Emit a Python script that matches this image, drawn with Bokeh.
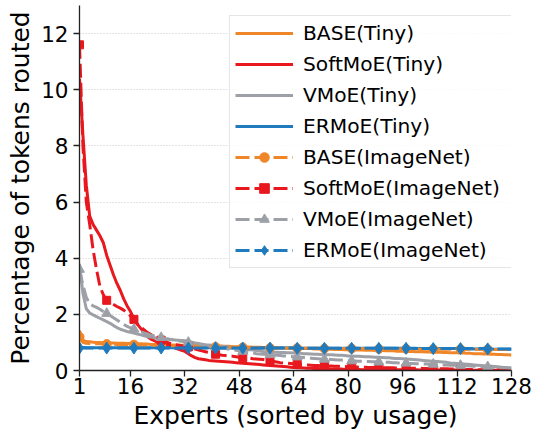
from bokeh.plotting import figure
from bokeh.models import Legend, LegendItem, Range1d, FixedTicker
from bokeh.embed import file_html
from bokeh.resources import INLINE

experts = list(range(1, 129))
x_ticks = [1, 16, 32, 48, 64, 80, 96, 112, 128]
y_ticks = [0, 2, 4, 6, 8, 10, 12]

base_tiny = [
    1.42, 1.08, 1.03, 1.02, 1.01, 1.0, 1.0, 0.99, 0.99, 0.98, 0.98, 0.97, 0.97, 0.97, 0.96, 0.96,
    0.95, 0.95, 0.95, 0.94, 0.94, 0.93, 0.93, 0.93, 0.92, 0.92, 0.92, 0.91, 0.91, 0.91, 0.9, 0.9,
    0.9, 0.89, 0.89, 0.89, 0.88, 0.88, 0.88, 0.87, 0.87, 0.87, 0.86, 0.86, 0.86, 0.85, 0.85, 0.85,
    0.84, 0.84, 0.84, 0.83, 0.83, 0.83, 0.82, 0.82, 0.82, 0.81, 0.81, 0.81, 0.8, 0.8, 0.8, 0.79,
    0.79, 0.79, 0.78, 0.78, 0.78, 0.77, 0.77, 0.77, 0.76, 0.76, 0.76, 0.75, 0.75, 0.75, 0.74, 0.74,
    0.74, 0.73, 0.73, 0.73, 0.72, 0.72, 0.72, 0.71, 0.71, 0.71, 0.7, 0.7, 0.7, 0.69, 0.69, 0.69,
    0.68, 0.68, 0.68, 0.67, 0.67, 0.67, 0.66, 0.66, 0.65, 0.65, 0.65, 0.64, 0.64, 0.63, 0.63, 0.63,
    0.62, 0.62, 0.61, 0.61, 0.6, 0.6, 0.6, 0.59, 0.59, 0.58, 0.58, 0.57, 0.57, 0.56, 0.56, 0.55,
]
softmoe_tiny = [
    10.4, 8.4, 6.6, 5.5, 5.2, 5.0, 4.8, 4.55, 4.1, 3.75, 3.4, 3.1, 2.85, 2.55, 2.3, 2.1,
    1.85, 1.65, 1.5, 1.35, 1.2, 1.12, 1.06, 1.0, 0.97, 0.93, 0.9, 0.86, 0.81, 0.76, 0.72, 0.68,
    0.6, 0.52, 0.46, 0.42, 0.4, 0.38, 0.36, 0.35, 0.34, 0.33, 0.32, 0.31, 0.3, 0.29, 0.28, 0.27,
    0.26, 0.25, 0.24, 0.23, 0.22, 0.21, 0.2, 0.19, 0.18, 0.17, 0.16, 0.15, 0.14, 0.13, 0.12, 0.11,
    0.1, 0.1, 0.09, 0.08, 0.08, 0.07, 0.07, 0.06, 0.06, 0.06, 0.05, 0.05, 0.05, 0.05, 0.04, 0.04,
    0.04, 0.04, 0.04, 0.03, 0.03, 0.03, 0.03, 0.03, 0.03, 0.03, 0.03, 0.03, 0.03, 0.03, 0.03, 0.03,
    0.03, 0.03, 0.03, 0.03, 0.02, 0.02, 0.02, 0.02, 0.02, 0.02, 0.02, 0.02, 0.02, 0.02, 0.02, 0.02,
    0.02, 0.02, 0.02, 0.01, 0.01, 0.01, 0.01, 0.01, 0.01, 0.01, 0.01, 0.01, 0.01, 0.01, 0.01, 0.01,
]
vmoe_tiny = [
    3.8, 2.75, 2.2, 2.05, 1.98, 1.92, 1.86, 1.8, 1.74, 1.68, 1.6, 1.53, 1.47, 1.43, 1.39, 1.36,
    1.33, 1.3, 1.27, 1.24, 1.21, 1.19, 1.17, 1.15, 1.14, 1.12, 1.11, 1.1, 1.09, 1.08, 1.07, 1.06,
    1.04, 1.01, 0.98, 0.96, 0.94, 0.92, 0.91, 0.9, 0.89, 0.87, 0.86, 0.85, 0.84, 0.82, 0.81, 0.79,
    0.78, 0.76, 0.74, 0.73, 0.71, 0.7, 0.68, 0.67, 0.66, 0.65, 0.65, 0.64, 0.64, 0.63, 0.63, 0.62,
    0.62, 0.61, 0.6, 0.6, 0.59, 0.58, 0.58, 0.57, 0.57, 0.56, 0.56, 0.55, 0.54, 0.54, 0.53, 0.52,
    0.52, 0.51, 0.51, 0.5, 0.49, 0.49, 0.48, 0.47, 0.47, 0.46, 0.45, 0.45, 0.44, 0.43, 0.43, 0.42,
    0.41, 0.4, 0.39, 0.38, 0.37, 0.36, 0.35, 0.34, 0.33, 0.32, 0.31, 0.3, 0.29, 0.27, 0.26, 0.25,
    0.24, 0.23, 0.22, 0.21, 0.2, 0.19, 0.18, 0.17, 0.16, 0.15, 0.14, 0.13, 0.12, 0.11, 0.1, 0.09,
]
ermoe_tiny = [
    0.82, 0.82, 0.81, 0.81, 0.81, 0.81, 0.81, 0.81, 0.81, 0.81, 0.81, 0.81, 0.81, 0.81, 0.81, 0.81,
    0.81, 0.81, 0.81, 0.81, 0.81, 0.81, 0.81, 0.81, 0.81, 0.81, 0.81, 0.81, 0.81, 0.81, 0.81, 0.81,
    0.81, 0.81, 0.81, 0.81, 0.81, 0.81, 0.81, 0.81, 0.8, 0.8, 0.8, 0.8, 0.8, 0.8, 0.8, 0.8,
    0.8, 0.8, 0.8, 0.8, 0.8, 0.8, 0.8, 0.8, 0.8, 0.8, 0.8, 0.8, 0.8, 0.8, 0.8, 0.8,
    0.79, 0.79, 0.79, 0.79, 0.79, 0.79, 0.79, 0.79, 0.79, 0.79, 0.79, 0.79, 0.79, 0.79, 0.79, 0.79,
    0.79, 0.79, 0.79, 0.79, 0.79, 0.79, 0.79, 0.79, 0.79, 0.79, 0.79, 0.79, 0.79, 0.79, 0.79, 0.79,
    0.78, 0.78, 0.78, 0.78, 0.78, 0.78, 0.78, 0.78, 0.78, 0.78, 0.78, 0.78, 0.78, 0.78, 0.78, 0.78,
    0.77, 0.77, 0.77, 0.77, 0.77, 0.77, 0.77, 0.77, 0.77, 0.77, 0.76, 0.76, 0.76, 0.76, 0.76, 0.76,
]
base_imagenet = [
    1.2, 1.0, 0.97, 0.96, 0.96, 0.95, 0.95, 0.95, 0.94, 0.94, 0.94, 0.93, 0.93, 0.93, 0.93, 0.92,
    0.92, 0.92, 0.91, 0.91, 0.91, 0.9, 0.9, 0.9, 0.89, 0.89, 0.89, 0.88, 0.88, 0.88, 0.87, 0.87,
    0.87, 0.86, 0.86, 0.86, 0.85, 0.85, 0.85, 0.84, 0.84, 0.84, 0.84, 0.83, 0.83, 0.83, 0.83, 0.82,
    0.82, 0.82, 0.82, 0.81, 0.81, 0.81, 0.81, 0.8, 0.8, 0.8, 0.8, 0.8, 0.79, 0.79, 0.79, 0.79,
    0.79, 0.79, 0.79, 0.79, 0.79, 0.79, 0.79, 0.79, 0.78, 0.78, 0.78, 0.78, 0.78, 0.78, 0.78, 0.78,
    0.78, 0.78, 0.78, 0.78, 0.78, 0.77, 0.77, 0.77, 0.77, 0.77, 0.77, 0.77, 0.77, 0.77, 0.77, 0.77,
    0.77, 0.77, 0.77, 0.77, 0.76, 0.76, 0.76, 0.76, 0.76, 0.76, 0.76, 0.76, 0.76, 0.76, 0.76, 0.76,
    0.76, 0.76, 0.76, 0.76, 0.76, 0.76, 0.76, 0.76, 0.75, 0.75, 0.75, 0.75, 0.75, 0.75, 0.75, 0.75,
]
softmoe_imagenet = [
    11.6, 8.0, 6.0, 5.2, 4.3, 3.6, 3.0, 2.7, 2.5, 2.42, 2.35, 2.28, 2.22, 2.15, 2.05, 1.95,
    1.82, 1.65, 1.55, 1.45, 1.35, 1.28, 1.2, 1.14, 1.08, 1.03, 0.99, 0.95, 0.92, 0.9, 0.88, 0.86,
    0.84, 0.8, 0.76, 0.73, 0.7, 0.67, 0.64, 0.61, 0.58, 0.56, 0.54, 0.53, 0.52, 0.51, 0.49, 0.47,
    0.46, 0.45, 0.44, 0.42, 0.41, 0.4, 0.39, 0.37, 0.34, 0.32, 0.3, 0.28, 0.27, 0.26, 0.25, 0.24,
    0.23, 0.22, 0.21, 0.2, 0.19, 0.18, 0.18, 0.17, 0.17, 0.16, 0.16, 0.15, 0.15, 0.14, 0.14, 0.13,
    0.13, 0.13, 0.12, 0.12, 0.12, 0.11, 0.11, 0.11, 0.1, 0.1, 0.1, 0.1, 0.1, 0.09, 0.09, 0.09,
    0.09, 0.08, 0.08, 0.08, 0.08, 0.07, 0.07, 0.07, 0.07, 0.06, 0.06, 0.06, 0.06, 0.05, 0.05, 0.05,
    0.05, 0.04, 0.04, 0.04, 0.03, 0.03, 0.03, 0.03, 0.02, 0.02, 0.02, 0.02, 0.01, 0.01, 0.01, 0.01,
]
vmoe_imagenet = [
    3.6, 3.05, 2.6, 2.38, 2.3, 2.25, 2.18, 2.1, 2.03, 1.96, 1.88, 1.8, 1.72, 1.64, 1.57, 1.52,
    1.47, 1.42, 1.38, 1.34, 1.3, 1.26, 1.23, 1.2, 1.17, 1.14, 1.12, 1.1, 1.08, 1.06, 1.04, 1.02,
    1.0, 0.98, 0.96, 0.94, 0.92, 0.9, 0.88, 0.86, 0.84, 0.82, 0.8, 0.78, 0.76, 0.74, 0.72, 0.7,
    0.68, 0.66, 0.64, 0.62, 0.6, 0.59, 0.58, 0.57, 0.56, 0.55, 0.54, 0.53, 0.52, 0.51, 0.5, 0.49,
    0.48, 0.47, 0.46, 0.45, 0.44, 0.43, 0.42, 0.41, 0.4, 0.4, 0.39, 0.38, 0.37, 0.37, 0.36, 0.35,
    0.34, 0.34, 0.33, 0.33, 0.32, 0.32, 0.31, 0.31, 0.3, 0.3, 0.29, 0.29, 0.28, 0.28, 0.27, 0.27,
    0.26, 0.25, 0.25, 0.24, 0.24, 0.23, 0.23, 0.22, 0.22, 0.21, 0.21, 0.2, 0.2, 0.19, 0.19, 0.18,
    0.18, 0.17, 0.17, 0.16, 0.15, 0.15, 0.14, 0.14, 0.13, 0.12, 0.12, 0.11, 0.1, 0.1, 0.09, 0.08,
]
ermoe_imagenet = [
    0.8, 0.8, 0.8, 0.8, 0.8, 0.8, 0.8, 0.8, 0.8, 0.8, 0.8, 0.8, 0.8, 0.8, 0.8, 0.8,
    0.8, 0.8, 0.8, 0.8, 0.8, 0.8, 0.8, 0.8, 0.8, 0.8, 0.8, 0.8, 0.8, 0.8, 0.8, 0.8,
    0.8, 0.8, 0.8, 0.8, 0.8, 0.8, 0.8, 0.8, 0.8, 0.8, 0.8, 0.8, 0.8, 0.8, 0.8, 0.8,
    0.8, 0.8, 0.8, 0.8, 0.8, 0.8, 0.8, 0.8, 0.8, 0.8, 0.8, 0.8, 0.8, 0.8, 0.8, 0.8,
    0.79, 0.79, 0.79, 0.79, 0.79, 0.79, 0.79, 0.79, 0.79, 0.79, 0.79, 0.79, 0.79, 0.79, 0.79, 0.79,
    0.79, 0.79, 0.79, 0.79, 0.79, 0.79, 0.79, 0.79, 0.79, 0.79, 0.79, 0.79, 0.79, 0.79, 0.79, 0.79,
    0.79, 0.79, 0.79, 0.79, 0.78, 0.78, 0.78, 0.78, 0.78, 0.78, 0.78, 0.78, 0.78, 0.78, 0.78, 0.78,
    0.78, 0.78, 0.78, 0.78, 0.78, 0.78, 0.78, 0.78, 0.77, 0.77, 0.77, 0.77, 0.77, 0.77, 0.77, 0.77,
]

names = ["BASE", "SoftMoE", "VMoE", "ERMoE"]
colors = ["#f0862a", "#e8181e", "#9da0a7", "#1f7bbd"]
markers = ["circle", "square", "triangle", "diamond"]
marker_sizes = [9, 8, 10, 12]
tiny_series = [base_tiny, softmoe_tiny, vmoe_tiny, ermoe_tiny]
imagenet_series = [base_imagenet, softmoe_imagenet, vmoe_imagenet, ermoe_imagenet]

FONT = "DejaVu Sans"

p = figure(width=532, height=432, output_backend="svg", toolbar_location=None,
           x_range=Range1d(1, 128), y_range=Range1d(0, 13.0),
           min_border_left=79, min_border_right=21, min_border_top=5, min_border_bottom=59)
p.outline_line_color = None
p.background_fill_color = "white"

for ax in (p.xaxis[0], p.yaxis[0]):
    ax.major_label_text_font = FONT
    ax.major_label_text_font_size = "21.5px"
    ax.major_label_text_color = "black"
    ax.axis_label_text_font = FONT
    ax.axis_label_text_font_size = "25px"
    ax.axis_label_text_font_style = "normal"
    ax.axis_label_text_color = "black"
    ax.axis_line_color = "#222222"
    ax.axis_line_width = 1.3
    ax.major_tick_line_color = "#222222"
    ax.major_tick_line_width = 1.3
    ax.major_tick_out = 6
    ax.major_tick_in = 0
    ax.minor_tick_line_color = None

p.xaxis.ticker = FixedTicker(ticks=x_ticks)
p.yaxis.ticker = FixedTicker(ticks=y_ticks)
p.xaxis.axis_label = "Experts (sorted by usage)"
p.yaxis.axis_label = "Percentage of tokens routed"
p.xaxis.major_label_standoff = 1
p.xaxis.axis_label_standoff = 4
p.yaxis.major_label_standoff = 5
p.yaxis.axis_label_standoff = 3

p.xgrid.visible = False
p.ygrid.grid_line_color = "#c8c8c8"
p.ygrid.grid_line_dash = "1 2"
p.ygrid.grid_line_width = 1

items = []
for name, c, ys in zip(names, colors, tiny_series):
    r = p.line(experts, ys, line_color=c, line_width=3)
    items.append(LegendItem(label=f"{name}(Tiny)", renderers=[r]))

for name, c, ys, m, ms in zip(names, colors, imagenet_series, markers, marker_sizes):
    r = p.line(experts, ys, line_color=c, line_width=3, line_dash="14 5")
    s = p.scatter(experts[::8], ys[::8], marker=m, size=ms, fill_color=c, line_color=c)
    items.append(LegendItem(label=f"{name}(ImageNet)", renderers=[r, s]))

legend = Legend(items=items, location=(150, 102))
legend.label_text_font = FONT
legend.label_text_font_size = "20.2px"
legend.label_text_color = "black"
legend.glyph_width = 58
legend.glyph_height = 24
legend.label_height = 24
legend.label_width = 207
legend.label_standoff = 10
legend.spacing = 7
legend.padding = 5
legend.margin = 0
legend.border_line_color = "#cccccc"
legend.border_line_width = 1
legend.background_fill_color = "white"
legend.background_fill_alpha = 0.85
p.add_layout(legend, "center")

open("out.html", "w").write(file_html(p, INLINE))
